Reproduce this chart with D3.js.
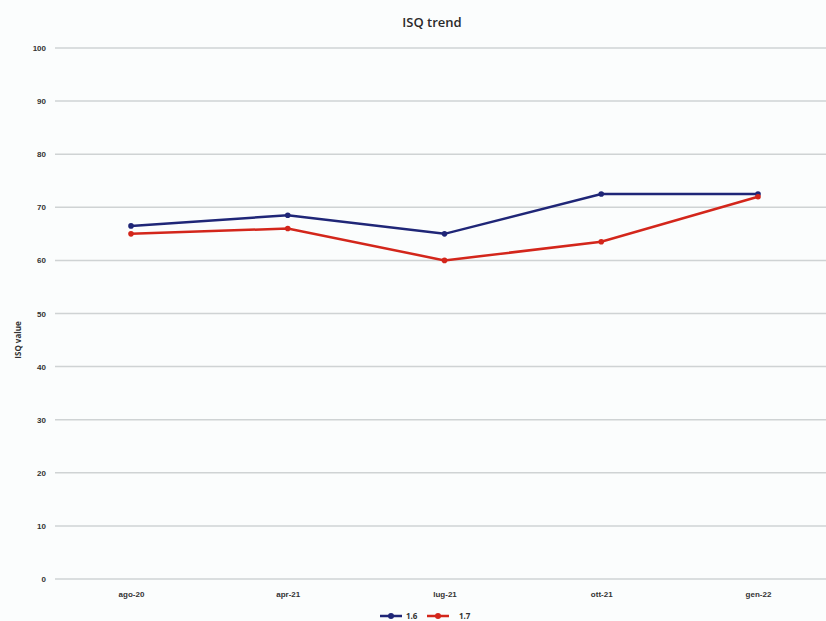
<!DOCTYPE html>
<html>
<head>
    <title>ISQ trend</title>
    <script src="https://d3js.org/d3.v7.min.js"></script>
    <style>
        body {
            margin: 0;
            padding: 0;
            background-color: #fbfdfd;
            font-family: "Open Sans", Arial, sans-serif;
            overflow: hidden;
        }
        .tick text {
            font-size: 8px;
            font-weight: bold;
            fill: #333;
        }
    </style>
</head>
<body>
    <div id="chart"></div>
    <script>
        const width = 826;
        const height = 621;

        // Data
        const categories = ['ago-20', 'apr-21', 'lug-21', 'ott-21', 'gen-22'];
        const series16 = [66.5, 68.5, 65, 72.5, 72.5];
        const series17 = [65, 66, 60, 63.5, 72];
        const yTicks = [0, 10, 20, 30, 40, 50, 60, 70, 80, 90, 100];

        const series = [
            { name: '1.6', values: series16, color: '#1f2677' },
            { name: '1.7', values: series17, color: '#d3261b' }
        ];

        const svg = d3.select('#chart')
            .append('svg')
            .attr('width', width)
            .attr('height', height);

        const x = d3.scalePoint()
            .domain(categories)
            .range([131, 758]);

        const y = d3.scaleLinear()
            .domain([0, 100])
            .range([579, 48]);

        // Gridlines
        svg.append('g')
            .selectAll('line')
            .data(yTicks)
            .join('line')
            .attr('x1', 55)
            .attr('x2', width)
            .attr('y1', d => y(d))
            .attr('y2', d => y(d))
            .attr('stroke', '#cfd3d4')
            .attr('stroke-width', 1.5);

        // Y axis labels
        const yAxis = svg.append('g')
            .attr('transform', 'translate(48,0)')
            .call(d3.axisLeft(y).tickValues(yTicks).tickSize(0).tickPadding(2));
        yAxis.select('.domain').remove();

        // X axis labels
        const xAxis = svg.append('g')
            .attr('transform', `translate(0,${y(0) + 9})`)
            .call(d3.axisBottom(x).tickSize(0).tickPadding(3));
        xAxis.select('.domain').remove();

        // Title
        svg.append('text')
            .attr('x', 432)
            .attr('y', 27)
            .attr('text-anchor', 'middle')
            .attr('font-size', 13)
            .attr('font-weight', 600)
            .attr('fill', '#2a2a2a')
            .text('ISQ trend');

        // Y axis title
        svg.append('text')
            .attr('transform', 'translate(21,340) rotate(-90)')
            .attr('text-anchor', 'middle')
            .attr('font-size', 8)
            .attr('font-weight', 'bold')
            .attr('fill', '#333')
            .text('ISQ value');

        const line = d3.line()
            .x((d, i) => x(categories[i]))
            .y(d => y(d));

        // Lines and markers
        series.forEach(s => {
            svg.append('path')
                .datum(s.values)
                .attr('fill', 'none')
                .attr('stroke', s.color)
                .attr('stroke-width', 2.5)
                .attr('d', line);

            svg.append('g')
                .selectAll('circle')
                .data(s.values)
                .join('circle')
                .attr('cx', (d, i) => x(categories[i]))
                .attr('cy', d => y(d))
                .attr('r', 2.8)
                .attr('fill', s.color);
        });

        // Legend
        const legend = svg.append('g')
            .attr('transform', 'translate(380,616)');
        const legendX = [0, 47];
        series.forEach((s, i) => {
            const lg = legend.append('g')
                .attr('transform', `translate(${legendX[i]},0)`);
            lg.append('line')
                .attr('x1', 0)
                .attr('x2', 22)
                .attr('stroke', s.color)
                .attr('stroke-width', 2.5);
            lg.append('circle')
                .attr('cx', 11)
                .attr('r', 3)
                .attr('fill', s.color);
            lg.append('text')
                .attr('x', i === 0 ? 26 : 32)
                .attr('y', 3)
                .attr('font-size', 8)
                .attr('font-weight', 'bold')
                .attr('fill', '#333')
                .text(s.name);
        });
    </script>
</body>
</html>
